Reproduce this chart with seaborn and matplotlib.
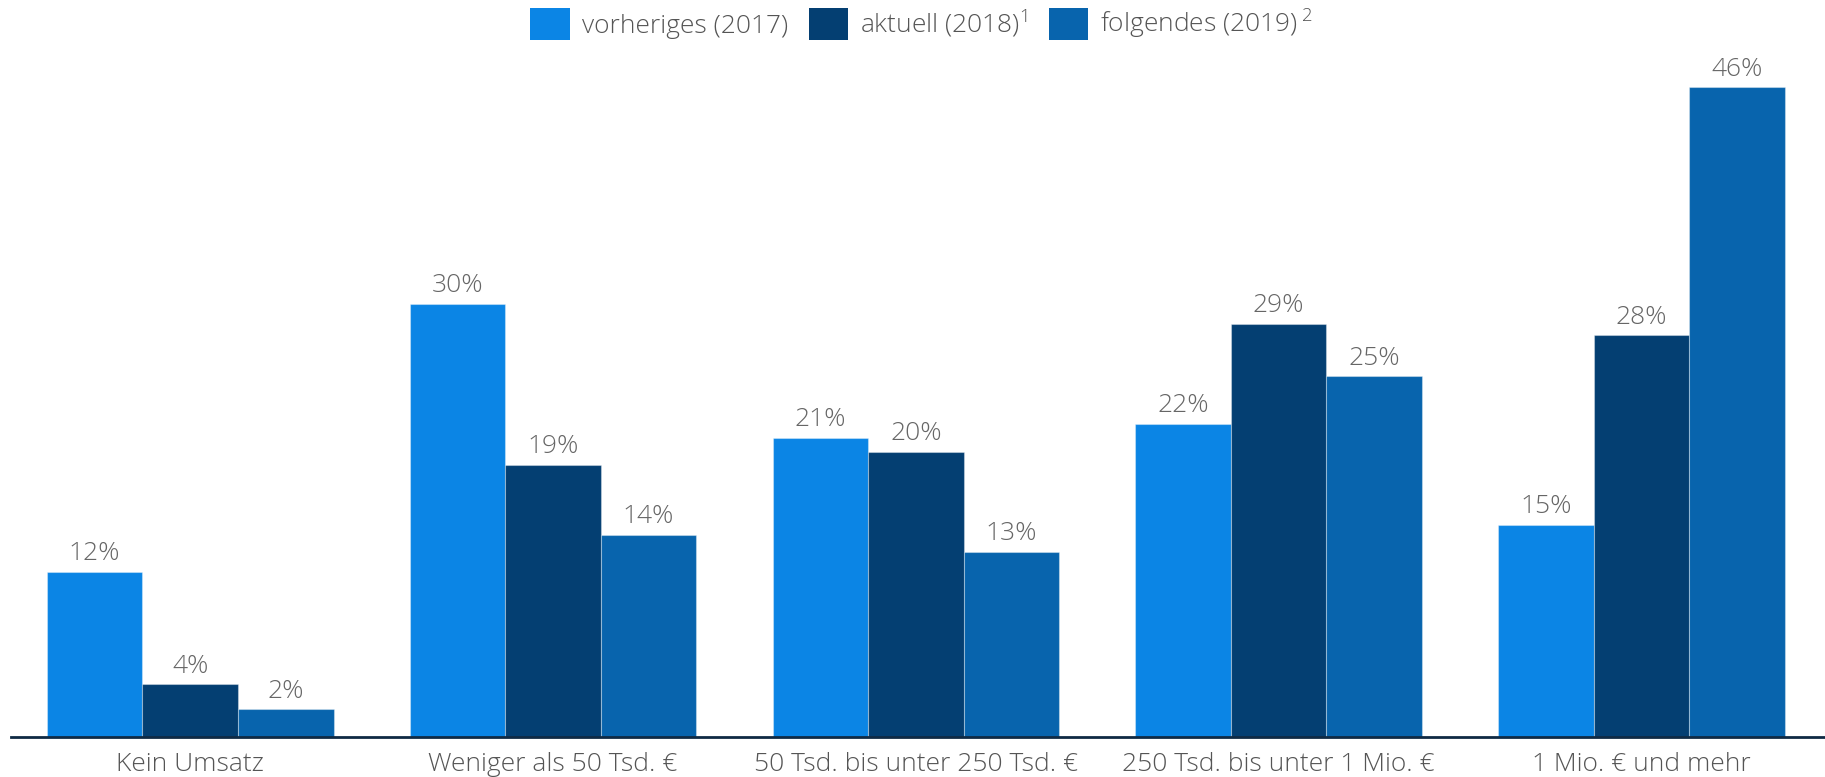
import matplotlib
matplotlib.use("Agg")
import matplotlib.pyplot as plt
import seaborn as sns
import pandas as pd
from matplotlib.patches import Patch

categories = ["Kein Umsatz", "Weniger als 50 Tsd. €", "50 Tsd. bis unter 250 Tsd. €",
              "250 Tsd. bis unter 1 Mio. €", "1 Mio. € und mehr"]
series_names = ["vorheriges (2017)", "aktuell (2018)$^{1}$", "folgendes (2019)$\\,^{2}$"]
v2017 = [11.6, 30.4, 21.0, 22.0, 14.9]
v2018 = [3.7, 19.1, 20.0, 29.0, 28.2]
v2019 = [1.96, 14.2, 13.0, 25.3, 45.6]
colors = ["#0b85e5", "#043f72", "#0864ad"]

rows = []
for name, vals in zip(series_names, [v2017, v2018, v2019]):
    for c, v in zip(categories, vals):
        rows.append({"cat": c, "series": name, "value": v})
df = pd.DataFrame(rows)

sns.set_theme(style="white")
plt.rcParams["font.family"] = ["Open Sans", "DejaVu Sans"]
plt.rcParams["mathtext.fontset"] = "custom"
plt.rcParams["mathtext.rm"] = "Open Sans:light"
plt.rcParams["mathtext.default"] = "rm"

FS = 19
fig = plt.figure(figsize=(18.25, 7.77), dpi=100)
ax = fig.add_axes([11/1825, 40/777, (1825-11)/1825, 684/777])

sns.barplot(data=df, x="cat", y="value", hue="series", order=categories,
            hue_order=series_names, palette=colors, width=0.79, ax=ax,
            edgecolor=(1, 1, 1, 0.35), linewidth=0.8, saturation=1, legend=False)

for cont in ax.containers:
    labels = [f"{b.get_height():.0f}%" for b in cont]
    ax.bar_label(cont, labels=labels, padding=4, fontsize=FS, color="#666666",
                 fontweight="light")

ax.set_xlim(-0.494, 4.506)
ax.set_ylim(0, 48)
ax.set_xlabel("")
ax.set_ylabel("")
ax.set_yticks([])
for s in ["top", "right", "left"]:
    ax.spines[s].set_visible(False)
ax.spines["bottom"].set_color("#0f2a44")
ax.spines["bottom"].set_linewidth(2)
ax.tick_params(axis="x", length=0, pad=10.5, labelsize=FS, labelcolor="#555555")
for t in ax.get_xticklabels():
    t.set_fontweight("light")

handles = [Patch(facecolor=c, edgecolor="none") for c in colors]
leg = fig.legend(handles, series_names, loc="upper center", bbox_to_anchor=(0.505, 1.02),
                 ncol=3, frameon=False, fontsize=FS, handlelength=1.5, handleheight=1.5,
                 handletextpad=0.45, columnspacing=0.8)
for t in leg.get_texts():
    t.set_color("#555555")
    t.set_fontweight("light")

fig.savefig("out.png", dpi=100)
